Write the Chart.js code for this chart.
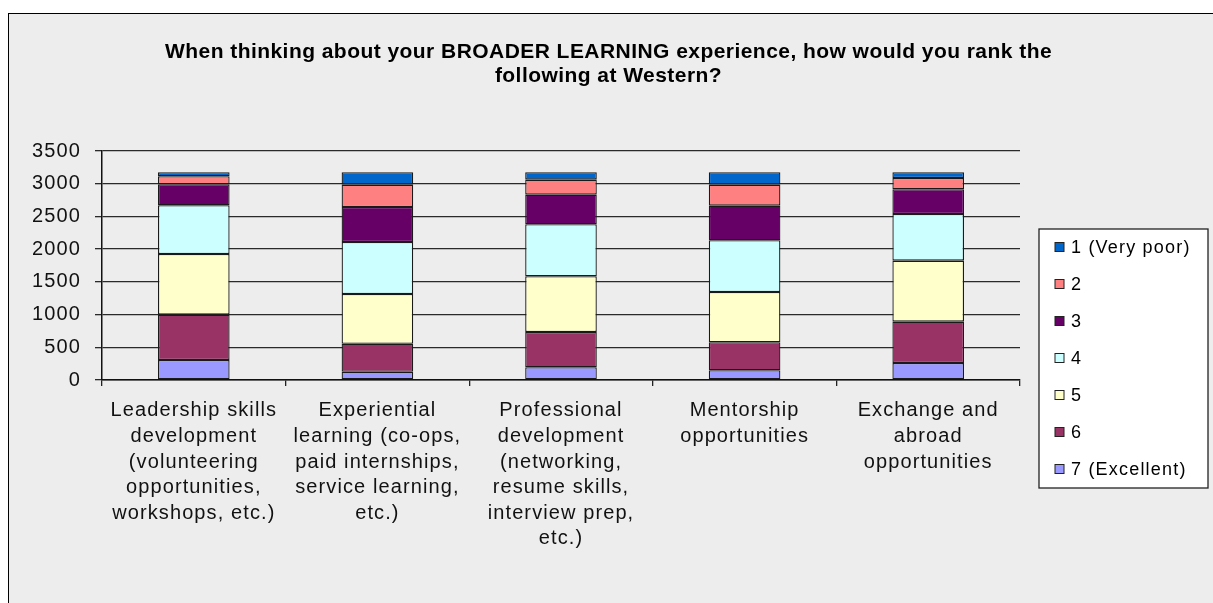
<!DOCTYPE html>
<html>
<head>
<meta charset="utf-8">
<script src="https://cdn.jsdelivr.net/npm/chart.js@4.4.1/dist/chart.umd.min.js"></script>
<style>
  body { margin: 0; background: #fff; overflow: hidden; }
  #frame {
    position: absolute; left: 8px; top: 13px; width: 1300px; height: 700px;
    background: #ededed; border: 1.5px solid #000;
  }
  #myChart { position: absolute; left: 0; top: 0; }
</style>
</head>
<body>
<div id="frame"></div>
<canvas id="myChart" width="1213" height="603"></canvas>
<script>
const titleLines = [
    "When thinking about your BROADER LEARNING experience, how would you rank the",
    "following at Western?"
]

const categories = [
    ["Leadership skills", "development", "(volunteering", "opportunities,", "workshops, etc.)"],
    ["Experiential", "learning (co-ops,", "paid internships,", "service learning,", "etc.)"],
    ["Professional", "development", "(networking,", "resume skills,", "interview prep,", "etc.)"],
    ["Mentorship", "opportunities"],
    ["Exchange and", "abroad", "opportunities"]
]

// one array per rating
const rating7 = [306, 127, 194, 148, 260]
const rating6 = [693, 428, 540, 428, 632]
const rating5 = [927, 760, 851, 770, 932]
const rating4 = [744, 795, 795, 790, 714]
const rating3 = [321, 535, 453, 529, 377]
const rating2 = [122, 341, 229, 321, 173]
const rating1 = [62, 189, 113, 189, 87]

const yTicks = [0, 500, 1000, 1500, 2000, 2500, 3000, 3500]

const seriesNames = ["7 (Excellent)", "6", "5", "4", "3", "2", "1 (Very poor)"]
const seriesValues = [rating7, rating6, rating5, rating4, rating3, rating2, rating1]
const seriesColors = ["#9999ff", "#993366", "#ffffcc", "#ccffff", "#660066", "#ff8080", "#0066cc"]

const datasets = seriesNames.map((name, i) => {
    return {
        label: name,
        data: seriesValues[i],
        backgroundColor: seriesColors[i],
        borderColor: "#1a1a1a",
        borderWidth: 1.3,
        borderSkipped: false,
        categoryPercentage: 1,
        barPercentage: 0.39
    }
})

const FONT = "'Liberation Sans', Arial, sans-serif"

const textPlugin = {
    id: "textPlugin",
    beforeDraw: (chart) => {
        chart.ctx.letterSpacing = "1.1px"
    },
    afterDraw: (chart) => {
        const ctx = chart.ctx
        const area = chart.chartArea
        ctx.save()

        // title
        ctx.letterSpacing = "0.45px"
        ctx.fillStyle = "#000"
        ctx.font = "bold 21px " + FONT
        ctx.textAlign = "center"
        ctx.textBaseline = "middle"
        titleLines.forEach((line, i) => {
            ctx.fillText(line, chart.width / 2 + 2, 52 + i * 24)
        })

        // legend box
        const boxX = area.right + 19
        const boxY = 229
        const boxW = 169
        const boxH = 259
        ctx.fillStyle = "#fff"
        ctx.fillRect(boxX, boxY, boxW, boxH)
        ctx.strokeStyle = "#222"
        ctx.lineWidth = 1.3
        ctx.strokeRect(boxX, boxY, boxW, boxH)

        ctx.letterSpacing = "1.2px"
        ctx.font = "18px " + FONT
        ctx.textAlign = "left"
        const items = chart.data.datasets.slice().reverse()
        items.forEach((ds, i) => {
            const cy = boxY + 18 + i * 37
            ctx.fillStyle = ds.backgroundColor
            ctx.fillRect(boxX + 16, cy - 4.5, 9, 9)
            ctx.strokeStyle = "#222"
            ctx.lineWidth = 1
            ctx.strokeRect(boxX + 16, cy - 4.5, 9, 9)
            ctx.fillStyle = "#000"
            ctx.fillText(ds.label, boxX + 32, cy + 1)
        })
        ctx.restore()
    }
}

const config = {
    type: "bar",
    data: {
        labels: categories,
        datasets: datasets
    },
    options: {
        responsive: false,
        animation: false,
        layout: {
            padding: { top: 151, right: 193, left: 0, bottom: 0 }
        },
        plugins: {
            legend: { display: false },
            title: { display: false },
            tooltip: { enabled: false }
        },
        scales: {
            x: {
                stacked: true,
                afterFit: (scale) => { scale.height = 223 },
                grid: {
                    drawOnChartArea: false,
                    drawTicks: true,
                    tickLength: 6,
                    color: "#222",
                    lineWidth: 1.3
                },
                border: { color: "#111", width: 1.5 },
                ticks: {
                    color: "#111",
                    font: { family: FONT, size: 20, lineHeight: 1.28 },
                    padding: 12,
                    maxRotation: 0,
                    autoSkip: false
                }
            },
            y: {
                stacked: true,
                min: 0,
                max: 3500,
                afterFit: (scale) => { scale.width = 102 },
                afterBuildTicks: (scale) => {
                    scale.ticks = yTicks.map(v => ({ value: v }))
                },
                grid: {
                    color: "#2a2a2a",
                    lineWidth: 1.3,
                    tickLength: 7
                },
                border: { color: "#111", width: 1.5 },
                ticks: {
                    color: "#111",
                    font: { family: FONT, size: 20 },
                    padding: 14,
                    callback: (value) => String(value)
                }
            }
        }
    },
    plugins: [textPlugin]
}

const chartDOM = document.querySelector("#myChart")
new Chart(chartDOM, config)
</script>
</body>
</html>
